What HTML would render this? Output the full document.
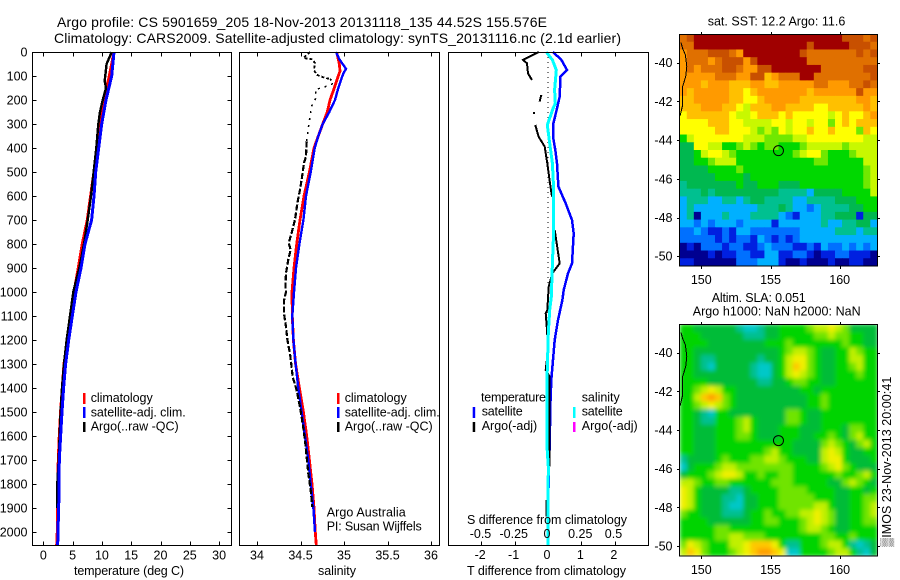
<!DOCTYPE html>
<html lang="en">
<head>
<meta charset="utf-8">
<title>Argo profile CS 5901659_205</title>
<style>
html,body{margin:0;padding:0;background:#fff;}
svg{display:block;}
text{font-family:"Liberation Sans",sans-serif;font-size:12.5px;fill:#000;}
.title{font-size:14px;}
</style>
</head>
<body>
<svg id="figure" xmlns="http://www.w3.org/2000/svg" width="900" height="580" viewBox="0 0 900 580">
  <defs>
    <clipPath id="clip-map1"><rect x="680" y="35" width="197" height="231"/></clipPath>
    <clipPath id="clip-map2"><rect x="680" y="325" width="197" height="231"/></clipPath>
    <filter id="soft" x="-5%" y="-5%" width="110%" height="110%"><feGaussianBlur stdDeviation="2.2"/></filter>
  </defs>
  <rect width="900" height="580" fill="#fff"/>

  <text class="title" x="57" y="27" textLength="490" lengthAdjust="spacing">Argo profile: CS 5901659_205 18-Nov-2013 20131118_135 44.52S 155.576E</text>
  <text class="title" x="54" y="43" textLength="567" lengthAdjust="spacing">Climatology: CARS2009. Satellite-adjusted climatology: synTS_20131116.nc (2.1d earlier)</text>

  <g id="panel-t"></g>
  <g id="panel-s"></g>
  <g id="panel-d"></g>
  <g id="map-sst"></g>
  <g id="map-sla"></g>

  <text x="74" y="575" textLength="110">temperature (deg C)</text>
  <text x="318" y="575" textLength="38">salinity</text>
  <text x="467" y="575" textLength="159">T difference from climatology</text>
  <text x="467" y="524" textLength="160">S difference from climatology</text>

  <g>
    <rect x="83" y="393" width="2.5" height="11" fill="#f00"/>
    <rect x="83" y="407" width="2.5" height="11" fill="#00f"/>
    <rect x="83" y="422" width="2.5" height="10" fill="#000"/>
    <text x="90.7" y="402" textLength="62">climatology</text>
    <text x="90.7" y="416.5" textLength="95">satellite-adj. clim.</text>
    <text x="90.7" y="430.5" textLength="88">Argo(..raw -QC)</text>
  </g>
  <g>
    <rect x="337" y="393" width="2.5" height="11" fill="#f00"/>
    <rect x="337" y="407" width="2.5" height="11" fill="#00f"/>
    <rect x="337" y="422" width="2.5" height="10" fill="#000"/>
    <text x="344.7" y="402" textLength="62">climatology</text>
    <text x="344.7" y="416.5" textLength="95">satellite-adj. clim.</text>
    <text x="344.7" y="430.5" textLength="88">Argo(..raw -QC)</text>
    <text x="326.7" y="516.7" textLength="79">Argo Australia</text>
    <text x="326.7" y="530.7" textLength="95">PI: Susan Wijffels</text>
  </g>
  <g>
    <text x="481" y="401.7" textLength="65">temperature</text>
    <text x="481.7" y="415.7" textLength="41">satellite</text>
    <text x="481.7" y="430" textLength="55.5">Argo(-adj)</text>
    <rect x="472.7" y="407" width="2.5" height="11" fill="#00f"/>
    <rect x="472.7" y="422" width="2.5" height="10" fill="#000"/>
    <text x="581.7" y="401.7" textLength="38">salinity</text>
    <text x="581.7" y="415.7" textLength="41">satellite</text>
    <text x="581.7" y="430" textLength="56">Argo(-adj)</text>
    <rect x="573" y="407" width="2.5" height="11" fill="#0ff"/>
    <rect x="573" y="422" width="2.5" height="10" fill="#f0f"/>
  </g>

  <text x="707.7" y="25.7" textLength="137.6">sat. SST: 12.2 Argo: 11.6</text>
  <text x="711.7" y="302" textLength="94">Altim. SLA: 0.051</text>
  <text x="692.7" y="315.7" textLength="168">Argo h1000: NaN h2000: NaN</text>
  <text transform="translate(891,546.7) rotate(-90)" x="0" y="0" textLength="170">▒IMOS 23-Nov-2013 20:00:41</text>
</svg>

<script>
// ---------- profile data ----------
const depthTicks = [0,100,200,300,400,500,600,700,800,900,1000,1100,1200,1300,1400,1500,1600,1700,1800,1900,2000];
const tempTicks = [0,5,10,15,20,25,30];
const salTicks = [34,34.5,35,35.5,36];
const salTickLabels = ['34','34.5','35','35.5','36'];
const tDiffTicks = [-2,-1,0,1,2];
const sDiffTicks = [-0.5,-0.25,0,0.25,0.5];
const sDiffTickLabels = ['-0.5','-0.25','0','0.25','0.5'];

const climDepth = [0,100,200,300,400,500,600,700,800,900,1000,1100,1200,1300,1400,1500,1600,1700,1800,1900,2000,2056];
const tempClim = [12.07,11.27,10.36,9.68,9.16,8.65,8.08,7.51,6.66,5.98,5.24,4.67,4.15,3.53,3.24,2.96,2.73,2.56,2.5,2.45,2.39,2.28];
const tempSat = [12.07,11.67,10.7,9.96,9.45,8.94,8.65,8.25,7.11,6.43,5.58,4.95,4.33,3.81,3.47,3.19,2.96,2.73,2.68,2.62,2.5,2.45];
const argoTDepth = [0,50,120,150,200,250,300,400,500,600,700,800,900,1000,1100,1200,1300,1400,1500,1600,1700,1800,1900];
const tempArgo = [11.67,10.81,10.47,10.7,10.13,9.68,9.39,9.05,8.59,8.14,7.57,6.94,6.15,5.12,4.55,3.98,3.53,3.19,2.96,2.79,2.62,2.39,2.39];

const salClimDepth = [0,50,80,100,150,200,250,300,350,400,500,600,700,800,900,1000,1100,1200,1300,1400,1500,1600,1700,1800,1900,2000,2056];
const salClim = [34.916,34.946,34.954,34.935,34.889,34.839,34.808,34.755,34.705,34.655,34.602,34.54,34.494,34.456,34.425,34.402,34.406,34.418,34.444,34.487,34.533,34.571,34.602,34.632,34.655,34.67,34.682];
const salSatDepth = [0,30,70,90,120,150,200,250,300,350,400,500,600,700,800,900,1000,1100,1200,1300,1400,1500,1600,1700,1800,1900,2000];
const salSat = [34.908,34.946,35.023,34.992,34.962,34.935,34.897,34.831,34.755,34.705,34.663,34.617,34.563,34.533,34.487,34.448,34.425,34.406,34.418,34.444,34.475,34.513,34.552,34.59,34.617,34.648,34.667];
const salArgoDepth = [0,25,30,45,75,95,108,112,130,145,157,185,226,268,317,372,435,462,532,574,629,699,754,796,824,865,921,976,1000,1035,1090,1146,1200,1257,1312,1354,1410,1479,1549,1618,1688,1757,1826,1896];
const salArgo = [34.609,34.533,34.628,34.667,34.655,34.686,34.782,34.839,34.885,34.782,34.667,34.686,34.628,34.609,34.59,34.571,34.563,34.54,34.513,34.494,34.464,34.437,34.398,34.364,34.387,34.36,34.333,34.326,34.333,34.31,34.31,34.333,34.349,34.379,34.398,34.41,34.456,34.494,34.525,34.552,34.571,34.59,34.617,34.636];

const tDiffSatDepth = [0,33,75,103,186,235,304,353,408,464,561,631,700,756,881,922,992,1033,1117,1200,1283,1367,1478,1644,1728,2056];
const tDiffSat = [0.15,0.40,0.57,0.37,0.35,0.27,0.15,0.15,0.22,0.27,0.31,0.53,0.72,0.77,0.72,0.6,0.47,0.43,0.30,0.2,0.15,0.1,0.07,0.05,0.02,0.0];
const tDiffArgoDepth = [0,33,47,89,117,150,179,207,240,251,258,280,304,353,394,464,547,603,660,742,881,922,978,1075,1089,1158,1242,1325,1353,1381,1728,1780,1867,1936];
const tDiffArgo = [-0.27,-0.75,-0.63,-0.6,-0.48,null,-0.2,-0.25,null,-0.42,-0.42,null,-0.38,-0.28,-0.1,-0.02,0.06,0.12,null,0.2,0.35,0.13,0.02,-0.02,-0.07,-0.03,0.0,-0.07,0.05,0.05,0.05,null,-0.05,-0.05];
const sDiffSatDepth = [0,33,75,158,214,235,304,380,464,575,742,881,1020,1075,1172,1367,1644,1728,2006,2056];
const sDiffSat = [-0.0125,0.033,0.0625,0.05,0.055,0.038,-0.005,0.0125,0.033,0.043,0.043,0.033,0.025,0.0125,0.0025,-0.0075,-0.0075,0.0025,0,0];

// ---------- map data (colour levels) ----------
const mapLonTicks = [150,155,160];
const mapLatTicks = [-40,-42,-44,-46,-48,-50];
const coastLon = [148.53,148.65,148.85,148.95,148.87,148.65,148.63,148.46];
const coastLat = [-38.95,-39.26,-39.6,-40.2,-40.72,-41.24,-42.27,-42.75];
const argoLon = 155.576;
const argoLat = -44.52;
const sstPalette = ['#000090','#0020e0','#0070ff','#00b0ff','#00c090','#00b850','#00d800','#70e800','#c8f800','#ffff00','#ffc000','#ff9a00','#e07000','#c85000','#a00000'];
const slaPalette = ['#00c8c8','#00c8c8','#00c8c8','#00c8c8','#00c090','#00bc38','#00d400','#70e400','#c0f000','#f0f000','#ffc800','#ffa000'];
const sstRows = [
"cdeeeeeeeeeeeeeeeeeeeeedddcd",
"cceeeeeeeeeeeeeeeedeeeeedddc",
"bcccdddcbeeeeeeeedcccccccdcd",
"bcccbcdddbdeeeeeeecccccccccc",
"bcbcccddcbbddeeeeeeeccccccdd",
"bbbbbcccbbddabccceeccccccccd",
"bbbabbbaaabbaabbbbbccbbbccdc",
"babbbbbaa9abbbbbbbabbbbbbdbb",
"aabbbbbaa99abbbbbaaaaaaaabba",
"aaabbbaa98aaabbaaaa99aaaaaba",
"9aaaaaa9889aaa9a9999989a99ab",
"9999aaa9988889989989979a9aaa",
"99999aa99987879899a99a9997a9",
"6899999998887777889999999988",
"5599886678767766678888878888",
"5568998766666666789976667888",
"5566788866666666666776666688",
"5555666676666666666666666678",
"5555566665666666666666666678",
"4555555565566655566666666678",
"4445455555555544443555566668",
"3444334434554444334444555666",
"3433333333344454332344445566",
"3403334333444432133344555155",
"3323233323333133333343344553",
"2232112133222222233333444344",
"2222212122132121233333333333",
"0102221221123222112132232323",
"0000101122113311221011221110",
"1100000022233310010001001100"
];
const slaRows = [
"6655555543345566667889875555",
"6665555554445566666778776655",
"6666555555556667666666676655",
"6655555555555567887655668766",
"6654455555545568997655668866",
"6654355555433568a97655667866",
"6655555555433568987655666766",
"6666555555544556776655666666",
"6678986655555555566566666666",
"668aba7655555555556676666666",
"6678987655555555556676666666",
"6654366555555557765566666666",
"6654466678655557765566666666",
"6655566678655566655566657766",
"6655566677655566655667657866",
"6655566666666666555578765786",
"6655566666667866555589865566",
"4555567666778876665589965556",
"3566678877777777666678976555",
"5666789986676677666666766786",
"8876677666666777666665578765",
"9865555445666677776666556656",
"9865554435566677777666556677",
"9865554335566677777886556678",
"7665554445667667788987556678",
"6666555555667766678987556677",
"6666677666666666678876556666",
"6666677887776666666677667666",
"7987666889aaa964466678864345",
"8a97666789abba93366667886435"
];

// ---------- scales ----------
const SVGNS = 'http://www.w3.org/2000/svg';
const yDepth = d => 52 + 0.24 * d;
const xTemp = t => 43.3 + 5.86 * t;
const xSal = s => 257 + 87 * (s - 34);
const xTDiff = t => 548 + 33.4 * t;
const xSDiff = s => 548 + 133 * s;
const xLon = lon => 701.3 + 13.84 * (lon - 150);
const yLat1 = lat => 62.7 + 19.35 * (-40 - lat);
const yLat2 = lat => 352.7 + 19.33 * (-40 - lat);

function make(tag, parent, attrs) {
  const el = document.createElementNS(SVGNS, tag);
  for (const k in attrs) el.setAttribute(k, attrs[k]);
  parent.appendChild(el);
  return el;
}
function frame(parent, x, y, w, h, name) {
  const el = make('rect', parent, {x:x, y:y, width:w, height:h, fill:'none', stroke:'#000', 'stroke-width':1, 'shape-rendering':'crispEdges'});
  
  
}
function tick(parent, x1, y1, x2, y2, name) {
  const el = make('line', parent, {x1:x1, y1:y1, x2:x2, y2:y2, stroke:'#000', 'stroke-width':1, 'shape-rendering':'crispEdges'});
  
  
}
function label(parent, x, y, str, anchor, name) {
  const el = make('text', parent, {x:x, y:y, 'text-anchor':anchor});
  el.textContent = str;
  
  
}
function curve(parent, xs, ys, xScale, yScale, color, width, dash, name) {
  let segs = [], cur = [];
  for (let i = 0; i < xs.length; i++) {
    if (xs[i] === null) { if (cur.length) segs.push(cur); cur = []; continue; }
    cur.push(xScale(xs[i]).toFixed(1) + ',' + yScale(ys[i]).toFixed(1));
  }
  if (cur.length) segs.push(cur);
  segs.forEach(function (pts) {
    const el = make('polyline', parent, {points:pts.join(' '), fill:'none', stroke:color, 'stroke-width':width, 'shape-rendering':'crispEdges'});
    if (dash) el.setAttribute('stroke-dasharray', dash);
    
    
  });
}
function xAxisTicks(parent, vals, scale) {
  vals.forEach(function (v) {
    const x = Math.round(scale(v)) + 0.5;
    tick(parent, x, 52.5, x, 56.5, 'top-tick');
    tick(parent, x, 541.5, x, 545.5, 'bottom-tick');
  });
}
function depthBand(values, depths, lo, hi) {
  const out = {v: [], d: []};
  depths.forEach(function (d, i) {
    if (d >= lo && d <= hi) { out.v.push(values[i]); out.d.push(d); }
  });
  return out;
}

// ---------- temperature panel ----------
const pT = document.getElementById('panel-t');
curve(pT, tempClim, climDepth, xTemp, yDepth, '#f00', 3, null, 'temperature-climatology-line');
curve(pT, tempArgo, argoTDepth, xTemp, yDepth, '#000', 2.4, null, 'temperature-argo-line');
curve(pT, tempSat, climDepth, xTemp, yDepth, '#00f', 3, null, 'temperature-satellite-line');
frame(pT, 32.5, 52.5, 199, 493, 'temperature-plot-frame');
xAxisTicks(pT, tempTicks, xTemp);
tempTicks.forEach(function (v) { label(pT, xTemp(v), 559.5, String(v), 'middle', 'temperature-tick-label'); });
depthTicks.forEach(function (d) {
  const y = Math.round(yDepth(d)) + 0.5;
  if (d > 0) {
    tick(pT, 32.5, y, 36.5, y, 'depth-tick-left');
    tick(pT, 227.5, y, 231.5, y, 'depth-tick-right');
  }
  label(pT, 27.5, yDepth(d) + 4.5, String(d), 'end', 'depth-tick-label');
});

// ---------- salinity panel ----------
const pS = document.getElementById('panel-s');
curve(pS, salClim, salClimDepth, xSal, yDepth, '#f00', 2.8, null, 'salinity-climatology-line');
curve(pS, salSat, salSatDepth, xSal, yDepth, '#00f', 2.4, null, 'salinity-satellite-line');
const salTop = depthBand(salArgo, salArgoDepth, 0, 112);
const salMid = depthBand(salArgo, salArgoDepth, 112, 372);
const salDeep = depthBand(salArgo, salArgoDepth, 372, 2056);
curve(pS, salTop.v, salTop.d, xSal, yDepth, '#000', 1.8, '3 2', 'salinity-argo-upper-points');
curve(pS, salMid.v, salMid.d, xSal, yDepth, '#000', 1.5, '2 5', 'salinity-argo-middle-points');
curve(pS, salDeep.v, salDeep.d, xSal, yDepth, '#000', 2.2, '6 2', 'salinity-argo-deep-points');
frame(pS, 239.5, 52.5, 200, 493, 'salinity-plot-frame');
xAxisTicks(pS, salTicks, xSal);
salTicks.forEach(function (v, i) { label(pS, xSal(v), 559.5, salTickLabels[i], 'middle', 'salinity-tick-label'); });

// ---------- difference panel ----------
const pD = document.getElementById('panel-d');
const zeroLine = make('line', pD, {x1:xTDiff(0), y1:yDepth(0), x2:xTDiff(0), y2:yDepth(2056), stroke:'#000', 'stroke-width':1, 'stroke-dasharray':'1 4', 'shape-rendering':'crispEdges'});


curve(pD, tDiffSat, tDiffSatDepth, xTDiff, yDepth, '#00f', 2.5, null, 't-difference-satellite-line');
curve(pD, tDiffArgo, tDiffArgoDepth, xTDiff, yDepth, '#000', 2, null, 't-difference-argo-line');
curve(pD, sDiffSat, sDiffSatDepth, xSDiff, yDepth, '#0ff', 3, null, 's-difference-satellite-line');
frame(pD, 448.5, 52.5, 200, 493, 'difference-plot-frame');
xAxisTicks(pD, tDiffTicks.filter(function (v) { return v !== 0; }), xTDiff);
tDiffTicks.forEach(function (v) { label(pD, xTDiff(v) - 1, 559, String(v), 'middle', 't-difference-tick-label'); });
sDiffTicks.forEach(function (v, i) { label(pD, xSDiff(v) - 1, 538, sDiffTickLabels[i], 'middle', 's-difference-tick-label'); });

// ---------- maps ----------
function drawMap(groupId, rows, palette, yLat, clipId, top, bottom, blur, cellName, coastName, markerName) {
  const g = document.getElementById(groupId);
  const cells = make('g', g, {'clip-path':'url(#' + clipId + ')'});
  
  
  const inner = make('g', cells, blur ? {filter:'url(#soft)'} : {});
  const lon0 = 148.44, lon1 = 162.72;
  const latTop = -40 + (yLat(-40) - top) / (yLat(-41) - yLat(-40));
  const latBot = -40 - (bottom - yLat(-40)) / (yLat(-41) - yLat(-40));
  const nCols = 28;
  rows.forEach(function (row, r) {
    const padded = row.padEnd(nCols, row[row.length - 1]);
    for (let c = 0; c < nCols; c++) {
      const level = parseInt(padded[c], 16);
      const la0 = latTop + (latBot - latTop) * r / rows.length;
      const la1 = latTop + (latBot - latTop) * (r + 1) / rows.length;
      const lo0 = lon0 + (lon1 - lon0) * c / nCols;
      const lo1 = lon0 + (lon1 - lon0) * (c + 1) / nCols;
      const cell = make('rect', inner, {x:xLon(lo0).toFixed(2), y:yLat(la0).toFixed(2), width:(xLon(lo1) - xLon(lo0) + 0.6).toFixed(2), height:(yLat(la1) - yLat(la0) + 0.6).toFixed(2), fill:palette[level]});
      
      
    }
  });
  curve(g, coastLon, coastLat, xLon, yLat, '#000', 1, null, coastName);
  const marker = make('circle', g, {cx:xLon(argoLon), cy:yLat(argoLat) + 0.5, r:5, fill:'none', stroke:'#000', 'stroke-width':1});
  
  
  frame(g, 679.5, top + 0.5, 198, bottom - top - 0.5, cellName + '-frame');
  mapLonTicks.forEach(function (lon) {
    const x = Math.round(xLon(lon)) + 0.5;
    tick(g, x, top - 2, x, top, 'longitude-tick-top');
    tick(g, x, bottom + 0.5, x, bottom + 3, 'longitude-tick-bottom');
    label(g, xLon(lon), bottom + 18, String(lon), 'middle', 'longitude-tick-label');
  });
  mapLatTicks.forEach(function (lat) {
    const y = Math.round(yLat(lat)) + 0.5;
    tick(g, 677, y, 679.5, y, 'latitude-tick-left');
    tick(g, 877.5, y, 880, y, 'latitude-tick-right');
    label(g, 672.5, yLat(lat) + 4.5, String(lat), 'end', 'latitude-tick-label');
  });
}
drawMap('map-sst', sstRows, sstPalette, yLat1, 'clip-map1', 34, 266, false, 'sst-cell', 'sst-coastline', 'sst-argo-marker');
drawMap('map-sla', slaRows, slaPalette, yLat2, 'clip-map2', 324, 556, true, 'sla-cell', 'sla-coastline', 'sla-argo-marker');
</script>
</body>
</html>
